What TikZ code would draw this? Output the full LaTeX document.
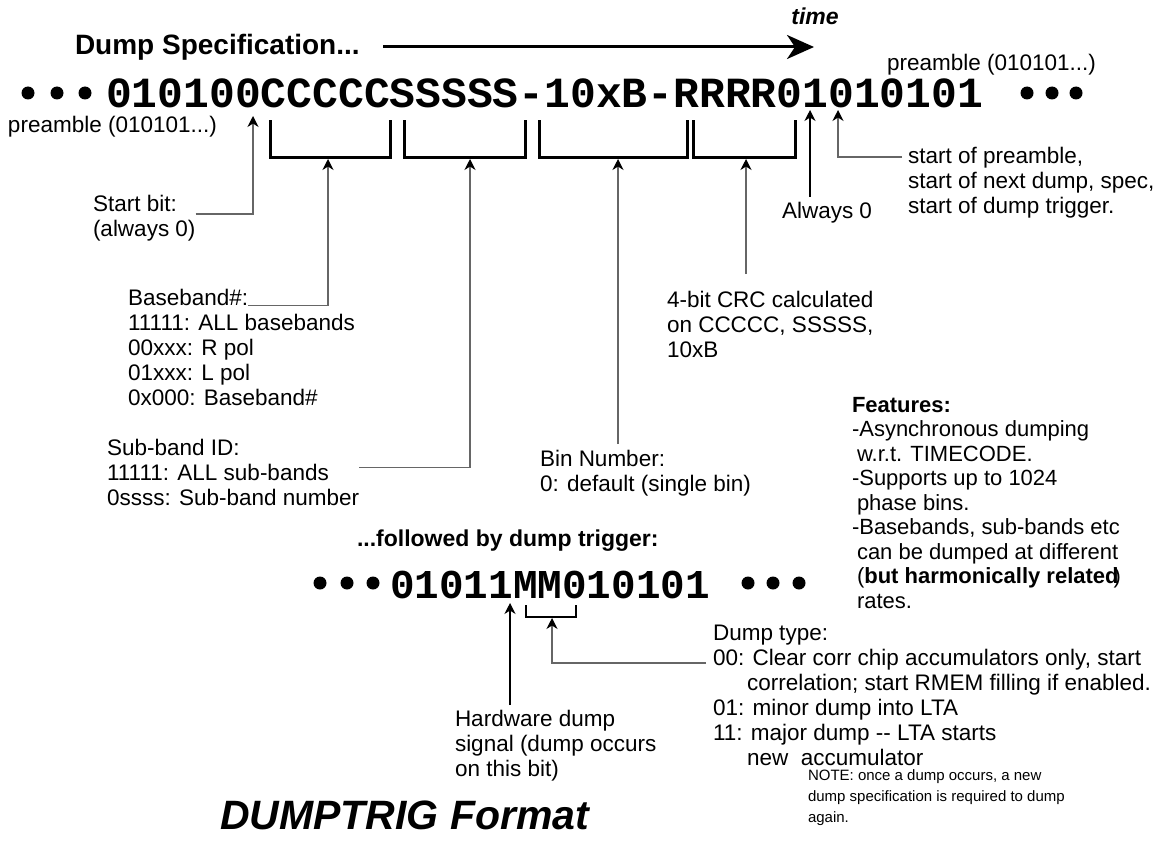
\documentclass[tikz,border=0pt]{standalone}
\usepackage{fontspec}
\setmainfont{Liberation Sans}
\newfontfamily\bitsfont{Liberation Mono}
\usepackage{tikz}
\usetikzlibrary{arrows.meta,positioning}

\begin{document}
\begin{tikzpicture}[x=1pt,y=-1pt,
    every node/.style={inner sep=0pt, outer sep=0pt},
    txt/.style={font=\fontsize{22.5}{25}\selectfont, align=left, anchor=north west},
    note/.style={font=\fontsize{15}{21}\selectfont, align=left, anchor=north west},
    head/.style={font=\bfseries\fontsize{28}{32}\selectfont, anchor=west},
    title/.style={font=\bfseries\itshape\fontsize{41}{46}\selectfont, anchor=west},
    bits/.style={font=\bitsfont\bfseries\fontsize{43}{50}\selectfont, anchor=base west},
    brk/.style={line width=3pt},
    lead/.style={draw=black!60, line width=1.3pt},
    arrow/.style={lead, -{Stealth[length=11pt,width=11pt,inset=3.5pt,color=black]}}
  ]
  \useasboundingbox (0,0) rectangle (1160,859);

  % time axis
  \node[head] (spec) at (75,47) {Dump Specification...};
  \node[font=\bfseries\itshape\fontsize{23}{26}\selectfont] (time) at (815,16) {time};
  \coordinate (t0) at (383,47);
  \coordinate (t1) at (814,47);
  \draw[line width=3pt, -{Stealth[length=27pt,width=24pt,inset=8pt]}] (t0) -- (t1);

  % dump specification bits
  \node[bits] (sbits) at (106,107) {010100CCCCCSSSSS-10xB-RRRR01010101};
  \foreach \x in {28,57,85} \fill (\x,93) circle (6.5pt);
  \foreach \x in {1027,1052,1076} \fill (\x,93) circle (6.5pt);
  \node[txt, anchor=west] (preL) at (8,127) {preamble (010101...)};
  \node[txt, anchor=west] (preR) at (887,65) {preamble (010101...)};

  % field brackets
  \foreach \l/\r/\m/\n in {270/390/328/cc, 404/525/470/ss, 539/687/618/bn, 693/795/746/rr} {
    \draw[brk] (\l,120) |- (\r,157) -- (\r,120);
    \coordinate (\n) at (\m,159);
  }

  % start bit
  \coordinate (sb) at (253,116);
  \node[txt] (start) at (93,195) {Start bit:\\(always 0)};
  \draw[arrow] ([yshift=4pt]start.east) -| (sb);

  % baseband
  \node[txt] (bb) at (128,289) {Baseband\#:};
  \node[txt] (bbList) at (128,314) {11111: ALL basebands\\00xxx: R pol\\01xxx: L pol\\0x000: Baseband\#};
  \draw[arrow] (bb.base east) -| (cc);

  % sub-band
  \node[txt] (sub) at (107,439) {Sub-band ID:\\11111: ALL sub-bands\\0ssss: Sub-band number};
  \draw[arrow] ([yshift=5pt]sub.east) -| (ss);

  % bin number
  \node[txt] (bin) at (540,450) {Bin Number:\\0: default (single bin)};
  \draw[arrow] ([yshift=6pt]bin.north -| bn) -- (bn);

  % crc
  \node[txt] (crc) at (667,291) {4-bit CRC calculated\\on CCCCC, SSSSS,\\10xB};
  \draw[arrow] ([yshift=17pt]crc.north -| rr) -- (rr);

  % always 0
  \coordinate (a0) at (810,110);
  \node[txt, anchor=west] (al0) at (782,213) {Always 0};
  \draw[arrow, draw=black] ([yshift=6pt]al0.north -| a0) -- (a0);

  % start of preamble
  \coordinate (s1) at (838,110);
  \node[txt] (sop) at (908,147) {start of preamble,\\start of next dump, spec,\\start of dump trigger.};
  \draw[arrow] ([xshift=-6pt,yshift=-10pt]sop.north west) -| (s1);

  % features
  \node[txt, font=\fontsize{22}{24.5}\selectfont] (feat) at (852,397) {\textbf{Features:}\\
    -Asynchronous dumping\\
    \hspace*{5pt}w.r.t. TIMECODE.\\
    -Supports up to 1024\\
    \hspace*{5pt}phase bins.\\
    -Basebands, sub-bands etc\\
    \hspace*{5pt}can be dumped at different\\
    \hspace*{5pt}(\textbf{but harmonically related}\kern-5pt)\\
    \hspace*{5pt}rates.};

  % dump trigger
  \node[head, font=\bfseries\fontsize{23}{28}\selectfont] (trig) at (357,541) {...followed by dump trigger:};
  \node[bits, font=\bitsfont\bfseries\fontsize{41}{48}\selectfont] (tbits) at (390,598) {01011MM010101};
  \foreach \x in {320,347,373} \fill (\x,583) circle (6.5pt);
  \foreach \x in {748,773,799} \fill (\x,583) circle (6.5pt);
  \draw[lead, draw=black] (526,605) |- (576,617) -- (576,605);
  \coordinate (mm) at (552,618);

  % hardware dump
  \coordinate (hw0) at (510,603);
  \node[txt] (hw) at (455,710) {Hardware dump\\signal (dump occurs\\on this bit)};
  \draw[arrow, draw=black] ([yshift=5pt]hw.north -| hw0) -- (hw0);

  % dump type
  \node[txt] (dt) at (713,625) {Dump type:\\
    00: Clear corr chip accumulators only, start\\
    \hspace*{34pt}correlation; start RMEM filling if enabled.\\
    01: minor dump into LTA\\
    11: major dump -{}- LTA starts\\
    \hspace*{34pt}new\ \ accumulator};
  \draw[arrow] ([xshift=-7pt,yshift=-38pt]dt.north west) -| (mm);

  % title and note
  \node[title] (fmt) at (220,815) {DUMPTRIG Format};
  \node[note] (note) at (808,770) {NOTE: once a dump occurs, a new\\dump specification is required to dump\\again.};
\end{tikzpicture}
\end{document}
